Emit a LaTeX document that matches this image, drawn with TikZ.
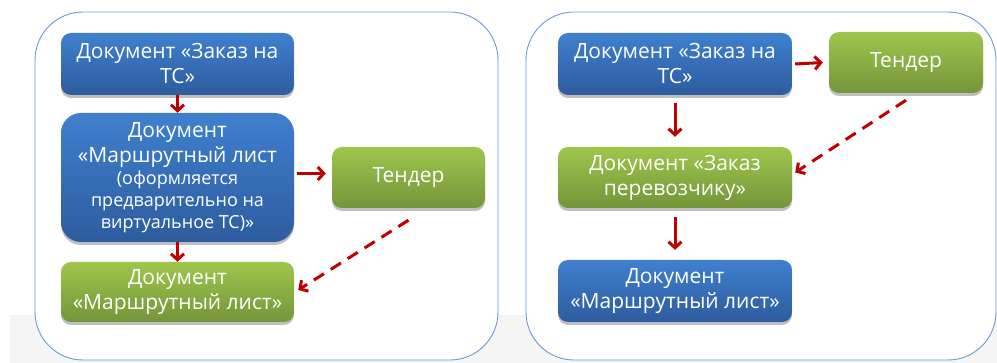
\documentclass[tikz,border=0pt]{standalone}
\usepackage{fontspec}
\setmainfont{Open Sans}
\usetikzlibrary{arrows.meta,shadows}
\definecolor{bluetop}{HTML}{3F80CE}
\definecolor{bluebot}{HTML}{2D5C9E}
\definecolor{greentop}{HTML}{9EC64C}
\definecolor{greenbot}{HTML}{74953A}
\definecolor{arrred}{HTML}{C00000}
\definecolor{panelline}{HTML}{6C9BD4}
\newcommand{\smalltxt}{\fontsize{18}{22}\selectfont}
\tikzset{
  docbox/.style={rounded corners=10pt, text=white, align=center, inner sep=2pt,
    font=\fontsize{21}{25}\selectfont,
    drop shadow={shadow xshift=0pt, shadow yshift=-3pt, opacity=0.25, fill=black}},
  bluebox/.style={docbox, top color=bluetop, bottom color=bluebot},
  greenbox/.style={docbox, top color=greentop, bottom color=greenbot},
  panel/.style={draw=panelline, line width=0.9pt, fill=white, rounded corners=48pt},
  redarrow/.style={draw=arrred, line width=3pt, -{Straight Barb[length=6pt,width=13pt,line width=3pt]}},
  dasharrow/.style={redarrow, dash pattern=on 12pt off 8pt}
}
\begin{document}
\begin{tikzpicture}[x=1pt,y=-1pt]
\useasboundingbox (0,0) rectangle (997,363);
\clip (0,0) rectangle (997,363);
\fill[gray!8] (10,315) rectangle (997,363);
\draw[panel] (35,12) rectangle (498,360);
\draw[panel] (526,12) rectangle (996,360);
% left panel
\node[bluebox, minimum width=233pt, minimum height=62pt] (L1) at (177.5,64) {Документ «Заказ на\\ТС»};
\node[bluebox, rounded corners=20pt, minimum width=233pt, minimum height=129pt] (L2) at (177.5,177.5)
  {Документ\\«Маршрутный лист\\[-3pt]{\smalltxt (оформляется}\\[-3pt]{\smalltxt предварительно на}\\[-3pt]{\smalltxt виртуальное ТС)»}};
\node[greenbox, minimum width=153pt, minimum height=61pt] (LT) at (408.5,177.5) {Тендер};
\node[greenbox, minimum width=233pt, minimum height=60pt] (L3) at (177.5,292) {Документ\\«Маршрутный лист»};
% right panel
\node[bluebox, minimum width=234pt, minimum height=62pt] (R1) at (675,64) {Документ «Заказ на\\ТС»};
\node[greenbox, minimum width=154pt, minimum height=61pt] (RT) at (906,62.5) {Тендер};
\node[greenbox, minimum width=234pt, minimum height=61pt] (R2) at (675,177.5) {Документ «Заказ\\перевозчику»};
\node[bluebox, minimum width=234pt, minimum height=62pt] (R3) at (675,291) {Документ\\«Маршрутный лист»};
% arrows left
\draw[redarrow] (L1.south) -- (L2.north);
\draw[redarrow] (L2.south) -- (L3.north);
\draw[redarrow] ([xshift=3pt,yshift=4pt]L2.east) -- ([xshift=-6pt,yshift=4pt]LT.west);
\draw[dasharrow] ([yshift=-12pt]LT.south) -- ([xshift=4pt,yshift=2pt]L3.east);
% arrows right
\draw[redarrow] ([xshift=3pt]R1.east) -- ([xshift=-6pt]RT.west);
\draw[redarrow] ([yshift=-8pt]R1.south) -- ([yshift=10pt]R2.north);
\draw[redarrow] ([yshift=-9pt]R2.south) -- ([yshift=10pt]R3.north);
\draw[dasharrow] ([yshift=-7pt]RT.south) -- ([xshift=3pt,yshift=5pt]R2.east);
\end{tikzpicture}
\end{document}
